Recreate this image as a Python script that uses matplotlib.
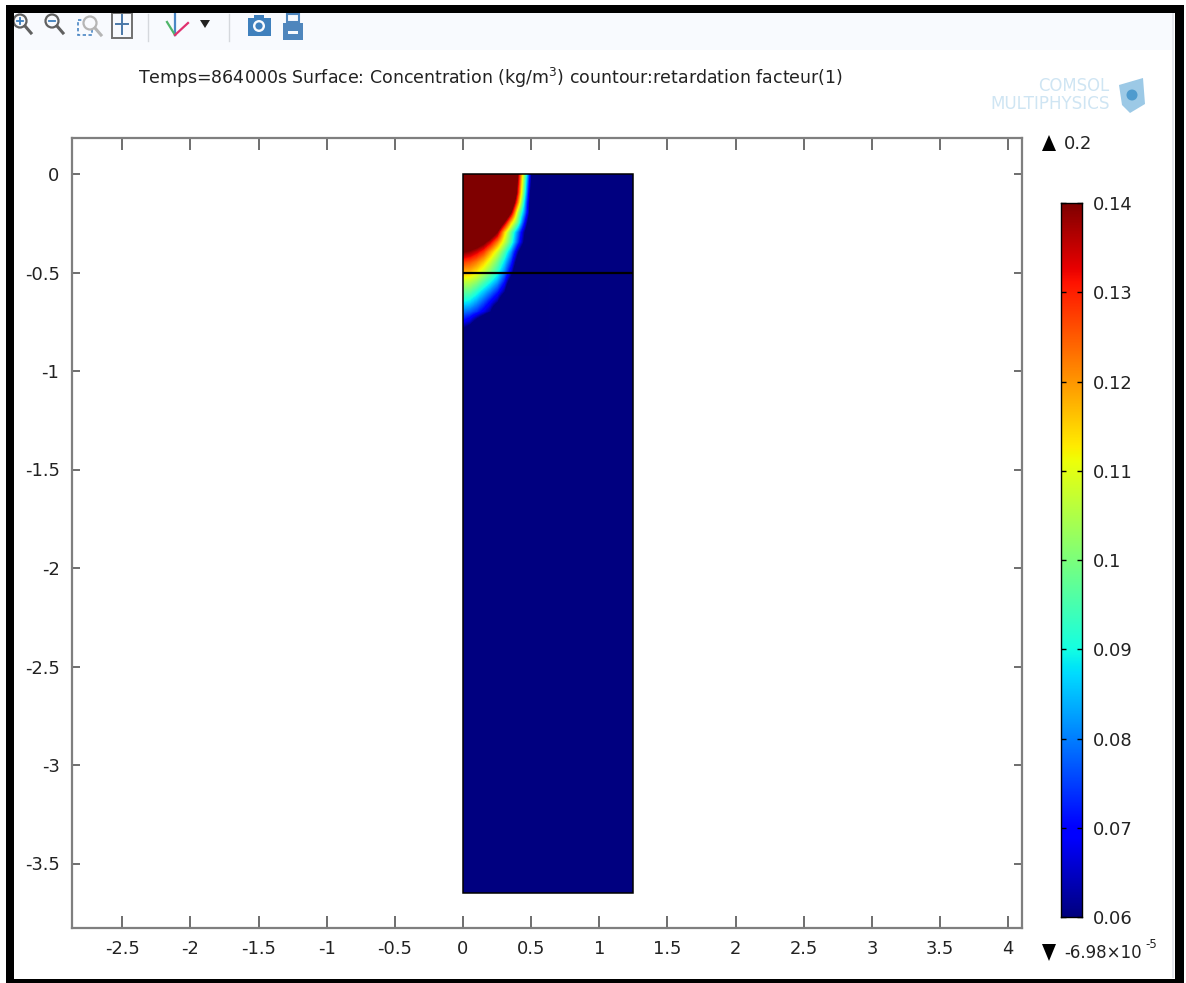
import matplotlib
matplotlib.use("Agg")
import matplotlib.pyplot as plt
from matplotlib.patches import Rectangle, Circle, Polygon
import numpy as np

W, H = 1186, 983
title = r"Temps=864000s Surface: Concentration (kg/m$^{3}$) countour:retardation facteur(1)"
x_ticks = [-2.5, -2, -1.5, -1, -0.5, 0, 0.5, 1, 1.5, 2, 2.5, 3, 3.5, 4]
x_tick_labels = ["-2.5", "-2", "-1.5", "-1", "-0.5", "0", "0.5", "1", "1.5", "2", "2.5", "3", "3.5", "4"]
y_ticks = [0, -0.5, -1, -1.5, -2, -2.5, -3, -3.5]
y_tick_labels = ["0", "-0.5", "-1", "-1.5", "-2", "-2.5", "-3", "-3.5"]
cbar_ticks = [0.06, 0.07, 0.08, 0.09, 0.1, 0.11, 0.12, 0.13, 0.14]
cbar_labels = ["0.06", "0.07", "0.08", "0.09", "0.1", "0.11", "0.12", "0.13", "0.14"]
domain_width = 1.25
domain_depth = -3.65
layer_depth = -0.5
data_max_label = "0.2"
data_min_mantissa = "-6.98\u00d710"
data_min_exponent = "-5"

# concentration; rows are depths, columns are x positions
grid_x = [0, .05, .10, .15, .20, .25, .30, .35, .40, .45, .50, .55, .60]
grid_y = [0, -.05, -.10, -.15, -.20, -.25, -.30, -.35, -.40, -.45, -.50, -.55, -.60, -.65, -.70, -.75, -.80, -.85, -.90]
concentration = [
    [.200, .200, .200, .200, .200, .200, .200, .180, .140, .100, .060, .020, .000],
    [.200, .200, .200, .200, .200, .200, .200, .176, .136, .096, .056, .016, .000],
    [.200, .200, .200, .200, .200, .200, .200, .172, .132, .092, .052, .012, .000],
    [.200, .200, .200, .200, .200, .200, .190, .158, .122, .085, .050, .012, .000],
    [.200, .200, .200, .200, .190, .180, .165, .140, .105, .080, .050, .015, .000],
    [.200, .195, .190, .185, .175, .160, .140, .116, .097, .070, .045, .020, .000],
    [.185, .182, .175, .165, .152, .140, .116, .098, .080, .060, .042, .020, .000],
    [.155, .152, .148, .143, .134, .122, .108, .094, .075, .057, .040, .020, .000],
    [.140, .138, .134, .128, .118, .108, .096, .082, .062, .045, .025, .010, .000],
    [.128, .126, .122, .116, .108, .099, .088, .074, .053, .035, .015, .000, .000],
    [.118, .117, .113, .107, .100, .092, .081, .066, .045, .025, .005, .000, .000],
    [.107, .106, .102, .096, .090, .083, .072, .052, .030, .010, .000, .000, .000],
    [.098, .097, .092, .086, .080, .073, .062, .040, .015, .000, .000, .000, .000],
    [.090, .088, .083, .077, .070, .062, .045, .025, .005, .000, .000, .000, .000],
    [.080, .078, .074, .068, .061, .045, .027, .010, .000, .000, .000, .000, .000],
    [.070, .066, .056, .047, .036, .022, .010, .000, .000, .000, .000, .000, .000],
    [.057, .050, .040, .030, .018, .008, .000, .000, .000, .000, .000, .000, .000],
    [.040, .034, .025, .015, .005, .000, .000, .000, .000, .000, .000, .000, .000],
    [.000, .000, .000, .000, .000, .000, .000, .000, .000, .000, .000, .000, .000],
]

plt.rcParams["font.family"] = "DejaVu Sans"
fig = plt.figure(figsize=(W / 100, H / 100), dpi=100, facecolor="white")

def px_axes(l, t, r, b, **kw):
    return fig.add_axes([l / W, 1 - b / H, (r - l) / W, (b - t) / H], **kw)

# window chrome drawn in pixel coordinates
bg = px_axes(0, 0, W, H, zorder=0)
bg.set_xlim(0, W); bg.set_ylim(H, 0); bg.axis("off")
bg.add_patch(Rectangle((14, 13), 1158, 37, fc="#f8fafe", ec="none"))
bg.add_patch(Rectangle((1172, 13), 2, 965, fc="#e6e8ee", ec="none"))

def lens(cx, cy, col="#606060", inner=None):
    bg.add_patch(Circle((cx, cy), 6.5, fc="#f8fafe", ec=col, lw=1.6))
    bg.plot([cx + 5, cx + 11], [cy + 5, cy + 12], color=col, lw=2.2)
    if inner:
        bg.plot([cx - 3, cx + 3], [cy, cy], color=inner, lw=1.3)
lens(20, 21, inner="#3d7ebc"); bg.plot([20, 20], [18, 24], color="#3d7ebc", lw=1.3)
lens(52, 21, inner="#3d7ebc")
bg.add_patch(Rectangle((78, 20), 14, 15, fc="none", ec="#4a86c4", lw=1.2, ls=(0, (2, 1.5))))
lens(90, 23, col="#b5b5b5")
bg.add_patch(Rectangle((112, 13), 20, 25, fc="none", ec="#707070", lw=1.4))
bg.plot([116, 128], [24, 24], color="#4a78a8", lw=1.4); bg.plot([122, 122], [15, 34], color="#4a78a8", lw=1.4)
bg.plot([148, 148], [14, 41], color="#d5d8dd", lw=1)
bg.plot([175, 175], [13, 35], color="#4a86c4", lw=1.6)
bg.plot([175, 167], [35, 22], color="#4fb56a", lw=1.6)
bg.plot([175, 188], [35, 23], color="#e0306f", lw=1.6)
bg.add_patch(Polygon([(200, 20), (210, 20), (205, 28)], fc="#222222", ec="none"))
bg.plot([229, 229], [14, 41], color="#d5d8dd", lw=1)
bg.add_patch(Rectangle((248, 18), 23, 18, fc="#3f80bd", ec="none"))
bg.add_patch(Rectangle((254, 15), 10, 4, fc="#3f80bd", ec="none"))
bg.add_patch(Circle((259, 26), 6, fc="#f8fafe", ec="none"))
bg.add_patch(Circle((259, 26), 3.6, fc="#3f80bd", ec="none"))
bg.add_patch(Rectangle((283, 23), 20, 17, fc="#4f86bd", ec="none"))
bg.add_patch(Rectangle((287, 14), 12, 8, fc="none", ec="#4f86bd", lw=1.5))
bg.add_patch(Rectangle((288, 31), 10, 3, fc="#f8fafe", ec="none"))

# logo
bg.text(1109, 86, "COMSOL", ha="right", va="center", fontsize=11.9, color="#cfe5f3")
bg.text(1110, 104, "MULTIPHYSICS", ha="right", va="center", fontsize=12.1, color="#cfe5f3")
bg.add_patch(Polygon([(1119, 85), (1143, 78), (1145, 104), (1130, 113), (1122, 105)], fc="#9cc9e6", ec="none"))
bg.add_patch(Circle((1132, 95), 5.5, fc="#4f9bce", ec="none"))

bg.text(490.5, 78, title, ha="center", va="center", fontsize=12.55, color="#222222")

# main plot
ax = px_axes(72, 138, 1022, 928, zorder=2)
domain = Rectangle((0, domain_depth), domain_width, -domain_depth, fc=plt.cm.jet(0.0), ec="none", zorder=1)
ax.add_patch(domain)
im = ax.imshow(np.array(concentration), cmap="jet", vmin=0.06, vmax=0.14, aspect="auto",
               extent=[grid_x[0] - .025, grid_x[-1] + .025, grid_y[-1] - .025, grid_y[0] + .025],
               origin="upper", interpolation="bilinear", interpolation_stage="data", zorder=2)
im.set_clip_path(domain)
ax.set_xlim(-391 / 136.3, 559 / 136.3)
ax.set_ylim(-754 / 197, 36 / 197)
ax.add_patch(Rectangle((0, domain_depth), domain_width, -domain_depth, fc="none", ec="black", lw=1.1, zorder=4))
ax.plot([0, domain_width], [layer_depth, layer_depth], color="black", lw=1.6, zorder=4, solid_capstyle="butt")
ax.set_xticks(x_ticks, x_tick_labels)
ax.set_yticks(y_ticks, y_tick_labels)
ax.tick_params(axis="x", which="major", direction="in", top=True, bottom=True, length=8.5, width=1.2,
               color="#555555", labelsize=12.9, labelcolor="#222222", pad=9)
ax.tick_params(axis="y", which="major", direction="in", left=True, right=True, length=5.5, width=1.2,
               color="#555555", labelsize=12.9, labelcolor="#222222", pad=9)
for s in ax.spines.values():
    s.set_color("#7f7f7f"); s.set_linewidth(1.6)

# colour bar
cax = px_axes(1061, 203, 1082, 917, zorder=2)
gradient = np.linspace(cbar_ticks[0], cbar_ticks[-1], 256)[:, None]
cax.imshow(gradient, aspect="auto", origin="lower", cmap="jet",
           extent=[0, 1, cbar_ticks[0], cbar_ticks[-1]], vmin=cbar_ticks[0], vmax=cbar_ticks[-1])
cax.set_xticks([])
cax.yaxis.tick_right()
cax.set_yticks(cbar_ticks, cbar_labels)
cax.tick_params(axis="y", direction="in", left=True, right=True, length=3.5, width=1, color="black",
                labelsize=12.9, labelcolor="#222222", pad=8)
for s in cax.spines.values():
    s.set_color("black"); s.set_linewidth(1)

# range markers beside the colour bar
bg.add_patch(Polygon([(1042, 151), (1056, 151), (1049, 135)], fc="black", ec="none"))
bg.add_patch(Polygon([(1042, 944), (1056, 944), (1049, 961)], fc="black", ec="none"))
bg.text(1064, 144, data_max_label, ha="left", va="center", fontsize=12.9, color="#222222")
bg.text(1064, 953, data_min_mantissa, ha="left", va="center", fontsize=12, color="#222222")
bg.text(1145, 945, data_min_exponent, ha="left", va="center", fontsize=8.5, color="#222222")

# black frame of the screenshot, above everything
top = px_axes(0, 0, W, H, zorder=5)
top.set_xlim(0, W); top.set_ylim(H, 0); top.axis("off"); top.patch.set_alpha(0)
for (x, y, w, h) in [(6, 5, 8, 978), (6, 5, 1178, 8), (1175, 5, 9, 978), (6, 979, 1178, 4)]:
    top.add_patch(Rectangle((x, y), w, h, fc="black", ec="none"))

fig.savefig("out.png", dpi=100, facecolor="white")
